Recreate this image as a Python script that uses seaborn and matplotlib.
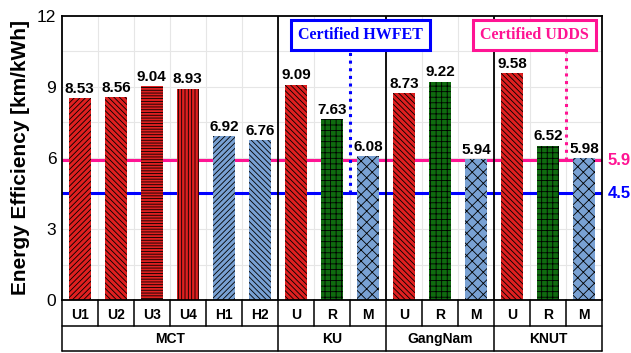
import matplotlib
matplotlib.use("Agg")
import matplotlib.pyplot as plt
import matplotlib.transforms as mtransforms
import seaborn as sns
import pandas as pd

# ---- data ----
groups = ["MCT"] * 6 + ["KU"] * 3 + ["GangNam"] * 3 + ["KNUT"] * 3
group_names = ["MCT", "KU", "GangNam", "KNUT"]
sub_labels = ["U1", "U2", "U3", "U4", "H1", "H2", "U", "R", "M", "U", "R", "M", "U", "R", "M"]
values = [8.53, 8.56, 9.04, 8.93, 6.92, 6.76, 9.09, 7.63, 6.08, 8.73, 9.22, 5.94, 9.58, 6.52, 5.98]
hwfet_value = 4.5
udds_value = 5.9
y_ticks = [0, 3, 6, 9, 12]

# ---- styles ----
RED = "#ff0000"
GREEN = "#007a00"
BLUE = "#6a9fe2"
PINK = "#ff1493"
LBLUE = "#0000ff"
color_map = {"U1": RED, "U2": RED, "U3": RED, "U4": RED, "U": RED,
             "H1": BLUE, "H2": BLUE, "R": GREEN, "M": BLUE}
hatch_map = {"U1": "//////", "U2": "\\\\\\\\\\\\", "U3": "------", "U4": "|||||",
             "H1": "//////", "H2": "\\\\\\\\\\\\", "U": "\\\\\\\\\\\\",
             "R": "+++", "M": "xxx"}

sns.set_style("white")
plt.rcParams["font.family"] = ["Liberation Sans", "DejaVu Sans"]
plt.rcParams["hatch.linewidth"] = 0.6
plt.rcParams["text.color"] = "black"
plt.rcParams["axes.labelcolor"] = "black"
plt.rcParams["xtick.color"] = "black"
plt.rcParams["ytick.color"] = "black"

keys = [f"{g}-{s}-{i}" for i, (g, s) in enumerate(zip(groups, sub_labels))]
df = pd.DataFrame({"key": keys, "value": values, "sub": sub_labels, "group": groups})
palette = {k: color_map[s] for k, s in zip(keys, sub_labels)}

fig = plt.figure(figsize=(6.31, 3.53), dpi=100)
ax = fig.add_axes([0.098, 0.150, 0.856, 0.805])

# grid (light)
for v in [1.5, 3, 4.5, 6, 7.5, 9, 10.5]:
    ax.axhline(v, color="#e6e6e6", lw=0.8, zorder=0)
for i in range(len(values) - 1):
    ax.axvline(i + 0.5, color="#e6e6e6", lw=0.8, zorder=0)

# reference lines
ax.axhline(udds_value, color=PINK, lw=2.2, zorder=1)
ax.axhline(hwfet_value, color=LBLUE, lw=2.2, zorder=1)

sns.barplot(data=df, x="key", y="value", hue="key", palette=palette, order=keys,
            width=0.6, legend=False, ax=ax, zorder=2, edgecolor="black", linewidth=0)

for patch, s in zip(ax.patches, sub_labels):
    patch.set_hatch(hatch_map[s])
    patch.set_zorder(2)

for i, v in enumerate(values):
    ax.text(i, v + 0.1, f"{v:.2f}", ha="center", va="bottom", fontsize=11,
            fontweight="bold", color="black", zorder=5)

# group separators inside the plot
bounds = [5.5, 8.5, 11.5]
for b in bounds:
    ax.axvline(b, color="black", lw=1.3, zorder=4)

ax.set_xlim(-0.5, len(values) - 0.5)
ax.set_ylim(0, 12)
ax.set_yticks(y_ticks)
ax.set_yticks([1.5, 4.5, 7.5, 10.5], minor=True)
ax.tick_params(axis="y", which="major", direction="in", length=3, labelsize=12.5, pad=4)
ax.tick_params(axis="y", which="minor", direction="in", length=2)
ax.set_ylabel("Energy Efficiency [km/kWh]", fontsize=15, fontweight="bold", labelpad=5)
ax.set_xlabel("")
ax.set_xticks(range(len(values)))
ax.set_xticklabels(sub_labels, fontsize=10, fontweight="bold")
ax.tick_params(axis="x", length=0, pad=6)
for sp in ax.spines.values():
    sp.set_color("black")
    sp.set_linewidth(1.3)

# dotted drop lines from boxes
ax.plot([7.5, 7.5], [hwfet_value, 10.55], color=LBLUE, lw=2.2, ls=(0, (1, 1.5)), zorder=4)
ax.plot([13.5, 13.5], [udds_value, 10.55], color=PINK, lw=2.2, ls=(0, (1, 1.5)), zorder=4)

# certified boxes
ax.text(7.8, 11.2, "Certified HWFET", ha="center", va="center", color=LBLUE,
        fontsize=11.5, fontweight="bold", family=["Liberation Serif", "DejaVu Serif"],
        bbox=dict(boxstyle="square,pad=0.45", fc="white", ec=LBLUE, lw=2.2), zorder=6)
ax.text(12.62, 11.2, "Certified UDDS", ha="center", va="center", color=PINK,
        fontsize=11.5, fontweight="bold", family=["Liberation Serif", "DejaVu Serif"],
        bbox=dict(boxstyle="square,pad=0.45", fc="white", ec=PINK, lw=2.2), zorder=6)

# right-side labels
tr_r = mtransforms.blended_transform_factory(ax.transAxes, ax.transData)
ax.text(1.01, udds_value, f"{udds_value}", transform=tr_r, color=PINK, fontsize=12,
        fontweight="bold", va="center", ha="left")
ax.text(1.01, hwfet_value, f"{hwfet_value}", transform=tr_r, color=LBLUE, fontsize=12,
        fontweight="bold", va="center", ha="left")

# bottom table
tr = mtransforms.blended_transform_factory(ax.transData, ax.transAxes)
r1, r2 = -0.092, -0.18
kw = dict(color="black", lw=1.1, transform=tr, clip_on=False)
ax.plot([-0.5, 14.5], [r1, r1], **kw)
ax.plot([-0.5, 14.5], [r2, r2], **kw)
ax.plot([-0.5, -0.5], [0, r2], **kw)
ax.plot([14.5, 14.5], [0, r2], **kw)
for i in range(len(values) - 1):
    b = i + 0.5
    ax.plot([b, b], [0, r2 if b in bounds else r1], **kw)
starts = {}
for i, g in enumerate(groups):
    starts.setdefault(g, []).append(i)
for g in group_names:
    idx = starts[g]
    ax.text((idx[0] + idx[-1]) / 2, (r1 + r2) / 2, g, transform=tr, ha="center",
            va="center", fontsize=10, fontweight="bold", color="black")

fig.savefig("out.png", dpi=100)
